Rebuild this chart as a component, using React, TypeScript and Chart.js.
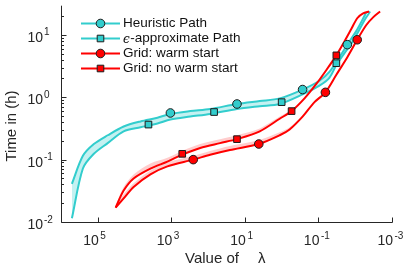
import React, { useEffect, useRef } from 'react';
import { Chart, registerables } from 'chart.js';

Chart.register(...registerables);

// ---------- data (lambda on x, time in hours on y) ----------
const heuristicLambda = [5.05e5, 2.54e5, 1.28e5, 5.37e4, 1.98e4, 6.89e3, 2.39e3, 1.06e3, 306, 88, 16.4, 3.94, 1.13, 0.27, 0.094, 0.0505, 0.027, 0.0164, 0.0094, 0.0065, 0.00505];
const heuristicTime = [0.041, 0.115, 0.178, 0.246, 0.34, 0.41, 0.47, 0.54, 0.6, 0.65, 0.78, 0.87, 0.96, 1.33, 1.84, 2.55, 4.37, 6.98, 11.5, 17.1, 22.9];

const epsLambda = [5.05e5, 2.54e5, 1.28e5, 5.37e4, 1.98e4, 6.89e3, 2.39e3, 1.06e3, 306, 88, 16.4, 3.94, 1.13, 0.27, 0.094, 0.0505, 0.0326, 0.0198, 0.0128, 0.0078, 0.0054, 0.00394];
const epsTime = [0.0115, 0.072, 0.124, 0.184, 0.284, 0.33, 0.38, 0.44, 0.49, 0.54, 0.65, 0.72, 0.78, 1.11, 1.54, 2.05, 3.28, 5.05, 7.23, 12.0, 17.8, 23.7];

const warmLambda = [3.27e4, 1.75e4, 1.06e4, 3.7e3, 1.28e3, 254, 88.3, 25.4, 4.19, 1.13, 0.608, 0.27, 0.128, 0.0647, 0.0326, 0.0164, 0.00883, 0.00505, 0.00327, 0.00211];
const warmTime = [0.017, 0.026, 0.0365, 0.058, 0.078, 0.1, 0.12, 0.143, 0.178, 0.246, 0.305, 0.49, 0.835, 1.2, 2.3, 4.4, 8.36, 14.3, 19.1, 23.7];

const noWarmLambda = [3.27e4, 1.98e4, 1.06e4, 3.7e3, 1.28e3, 505, 164, 47.5, 16.4, 3.94, 1.13, 0.537, 0.239, 0.113, 0.0608, 0.0326, 0.0198, 0.0128, 0.00883, 0.0061, 0.00419];
const noWarmTime = [0.017, 0.032, 0.05, 0.072, 0.093, 0.12, 0.154, 0.184, 0.213, 0.284, 0.453, 0.6, 0.96, 1.65, 2.74, 4.7, 7.78, 12.4, 18.5, 22.1, 23.7];

// upper edges of the light red bands
const warmBandLambda = [3.27e4, 1.75e4, 1.06e4, 3.7e3, 1.28e3, 254, 88.3, 25.4, 4.19, 1.13, 0.608, 0.27];
const warmBandTime = [0.0184, 0.0305, 0.042, 0.067, 0.0898, 0.115, 0.138, 0.166, 0.205, 0.274, 0.33, 0.5];
const noWarmBandLambda = [3.27e4, 1.98e4, 1.06e4, 3.7e3, 1.28e3, 505, 164, 47.5, 16.4, 3.94, 1.13, 0.537];
const noWarmBandTime = [0.0184, 0.0365, 0.058, 0.0866, 0.107, 0.138, 0.178, 0.213, 0.246, 0.316, 0.49, 0.63];

// markers
const heuristicMarkLambda = [1.06e3, 16.4, 0.27, 0.0164];
const heuristicMarkTime = [0.56, 0.78, 1.33, 6.98];
const epsMarkLambda = [4.19e3, 68.8, 1.0, 0.0326];
const epsMarkTime = [0.365, 0.58, 0.835, 3.52];
const warmMarkLambda = [254, 4.19, 0.0647, 0.00883];
const warmMarkTime = [0.1, 0.178, 1.2, 8.36];
const noWarmMarkLambda = [505, 16.4, 0.537, 0.0326];
const noWarmMarkTime = [0.124, 0.213, 0.6, 4.7];

// axes
const xTickValues = [1e5, 1e3, 1e1, 1e-1, 1e-3];
const xTickExponents = ['5', '3', '1', '-1', '-3'];
const yTickValues = [1e-2, 1e-1, 1, 10];
const yTickExponents = ['-2', '-1', '0', '1'];
const xMin = 1e-3;
const xMax = 1e6;
const yMin = 0.01;
const yMax = 29.4;

const legendLabels = ['Heuristic Path', '-approximate Path', 'Grid: warm start', 'Grid: no warm start'];
const xTitle = 'Value of';
const yTitle = 'Time in (h)';

const CYAN = 'rgb(50,205,205)';
const CYAN_BAND = 'rgb(196,241,241)';
const RED = 'rgb(255,0,0)';
const PINK = 'rgb(255,205,205)';
const EDGE = '#1c1c1c';
const AXIS = '#262626';
const SANS = '"Liberation Sans", Arial, sans-serif';

const toPoints = (xs: number[], ys: number[]) => xs.map((x, i) => ({ x, y: ys[i] }));

function drawMarker(ctx: CanvasRenderingContext2D, kind: string, x: number, y: number, fill: string) {
  ctx.save();
  ctx.fillStyle = fill;
  ctx.strokeStyle = EDGE;
  ctx.lineWidth = 1;
  ctx.beginPath();
  if (kind === 'circle') {
    ctx.arc(x, y, 4.3, 0, Math.PI * 2);
  } else {
    ctx.rect(x - 3.3, y - 3.3, 6.6, 6.6);
  }
  ctx.fill();
  ctx.stroke();
  ctx.restore();
}

const axesPlugin = {
  id: 'customAxes',
  afterDraw(chart: any) {
    const { ctx, chartArea: ca, scales } = chart;
    const xs = scales.x;
    const ys = scales.y;
    ctx.save();
    ctx.strokeStyle = AXIS;
    ctx.lineWidth = 1;
    const left = Math.round(ca.left) + 0.5;
    const bottom = Math.round(ca.bottom) + 0.5;
    ctx.beginPath();
    ctx.moveTo(left, ca.top);
    ctx.lineTo(left, bottom);
    ctx.lineTo(Math.round(ca.right) + 0.5, bottom);
    ctx.stroke();

    // y ticks
    ctx.beginPath();
    for (let d = -2; d <= 1; d++) {
      for (let m = 1; m <= 9; m++) {
        const v = m * Math.pow(10, d);
        if (v > yMax) continue;
        const py = Math.round(ys.getPixelForValue(v)) + 0.5;
        const len = m === 1 ? 5 : 2.5;
        ctx.moveTo(left, py);
        ctx.lineTo(left + len, py);
      }
    }
    // x ticks
    xTickValues.forEach((v) => {
      const px = Math.round(xs.getPixelForValue(v)) + 0.5;
      ctx.moveTo(px, bottom);
      ctx.lineTo(px, bottom - 5);
    });
    ctx.stroke();

    ctx.fillStyle = AXIS;
    ctx.textBaseline = 'alphabetic';
    // y labels
    yTickValues.forEach((v, i) => {
      const py = ys.getPixelForValue(v);
      ctx.font = `14px ${SANS}`;
      ctx.textAlign = 'right';
      ctx.fillText('10', 43, py + 7);
      ctx.font = `10px ${SANS}`;
      ctx.textAlign = 'left';
      ctx.fillText(yTickExponents[i], 44, py + 0.5);
    });
    // x labels
    xTickValues.forEach((v, i) => {
      const px = xs.getPixelForValue(v);
      ctx.font = `14px ${SANS}`;
      ctx.textAlign = 'right';
      ctx.fillText('10', px + 1, 245);
      ctx.font = `10px ${SANS}`;
      ctx.textAlign = 'left';
      ctx.fillText(xTickExponents[i], px + 2.5, 239);
    });

    // axis titles
    ctx.font = `15px ${SANS}`;
    ctx.textAlign = 'left';
    ctx.fillText(xTitle, 185, 263);
    ctx.fillText('λ', 258, 263);

    ctx.save();
    ctx.translate(12, 126);
    ctx.rotate(-Math.PI / 2);
    ctx.textAlign = 'center';
    ctx.textBaseline = 'middle';
    ctx.fillText(yTitle, 0, 0);
    ctx.restore();

    // legend
    const rows = [23.5, 38.5, 53.5, 68.5];
    const colors = [CYAN, CYAN, RED, RED];
    const kinds = ['circle', 'rect', 'circle', 'rect'];
    rows.forEach((ry, i) => {
      ctx.strokeStyle = colors[i];
      ctx.lineWidth = 2;
      ctx.beginPath();
      ctx.moveTo(81, ry);
      ctx.lineTo(120, ry);
      ctx.stroke();
      drawMarker(ctx, kinds[i], 100.5, ry, colors[i]);
      ctx.fillStyle = '#111';
      ctx.textBaseline = 'middle';
      ctx.textAlign = 'left';
      if (i === 1) {
        ctx.font = `italic 12px "DejaVu Serif", serif`;
        ctx.fillText('ϵ', 123, ry + 1);
        const w = ctx.measureText('ϵ').width;
        ctx.font = `13.5px ${SANS}`;
        ctx.fillText(legendLabels[i], 123 + w + 0.5, ry);
      } else {
        ctx.font = `13.5px ${SANS}`;
        ctx.fillText(legendLabels[i], 123, ry);
      }
    });
    ctx.restore();
  },
};

export default function App() {
  const ref = useRef<HTMLCanvasElement | null>(null);

  useEffect(() => {
    document.body.style.margin = '0';
    const canvas = ref.current;
    if (!canvas) return;
    const lineBase = { pointRadius: 0, borderWidth: 2, tension: 0.3, fill: false };
    const markerBase = { showLine: false, pointBorderColor: EDGE, pointBorderWidth: 1, order: 0 };
    const chart = new Chart(canvas, {
      type: 'line',
      data: {
        datasets: [
          { ...lineBase, label: 'heuristic', data: toPoints(heuristicLambda, heuristicTime), borderColor: CYAN, backgroundColor: CYAN_BAND, fill: { target: 1, above: CYAN_BAND, below: CYAN_BAND }, order: 3 },
          { ...lineBase, label: 'eps', data: toPoints(epsLambda, epsTime), borderColor: CYAN, order: 3 },
          { ...lineBase, label: 'warmBand', data: toPoints(warmBandLambda, warmBandTime), borderWidth: 0, borderColor: 'rgba(0,0,0,0)', backgroundColor: PINK, fill: { target: 4, above: PINK, below: PINK }, order: 2 },
          { ...lineBase, label: 'noWarmBand', data: toPoints(noWarmBandLambda, noWarmBandTime), borderWidth: 0, borderColor: 'rgba(0,0,0,0)', backgroundColor: PINK, fill: { target: 5, above: PINK, below: PINK }, order: 2 },
          { ...lineBase, label: 'warm', data: toPoints(warmLambda, warmTime), borderColor: RED, order: 1 },
          { ...lineBase, label: 'noWarm', data: toPoints(noWarmLambda, noWarmTime), borderColor: RED, order: 1 },
          { ...markerBase, label: 'hm', data: toPoints(heuristicMarkLambda, heuristicMarkTime), pointStyle: 'circle', pointRadius: 4.3, pointBackgroundColor: CYAN },
          { ...markerBase, label: 'em', data: toPoints(epsMarkLambda, epsMarkTime), pointStyle: 'rect', pointRadius: 4.7, pointBackgroundColor: CYAN },
          { ...markerBase, label: 'wm', data: toPoints(warmMarkLambda, warmMarkTime), pointStyle: 'circle', pointRadius: 4.3, pointBackgroundColor: RED },
          { ...markerBase, label: 'nm', data: toPoints(noWarmMarkLambda, noWarmMarkTime), pointStyle: 'rect', pointRadius: 4.7, pointBackgroundColor: RED },
        ] as any,
      },
      options: {
        animation: false,
        responsive: false,
        devicePixelRatio: 1,
        layout: { padding: { left: 61, right: 15, top: 0, bottom: 47 } },
        scales: {
          x: { type: 'logarithmic', reverse: true, min: xMin, max: xMax, display: false },
          y: { type: 'logarithmic', min: yMin, max: yMax, display: false },
        },
        plugins: {
          legend: { display: false },
          tooltip: { enabled: false },
          filler: { drawTime: 'beforeDatasetsDraw' },
        } as any,
        events: [],
      },
      plugins: [axesPlugin],
    });
    return () => chart.destroy();
  }, []);

  return <canvas ref={ref} width={407} height={269} style={{ display: 'block' }} />;
}
